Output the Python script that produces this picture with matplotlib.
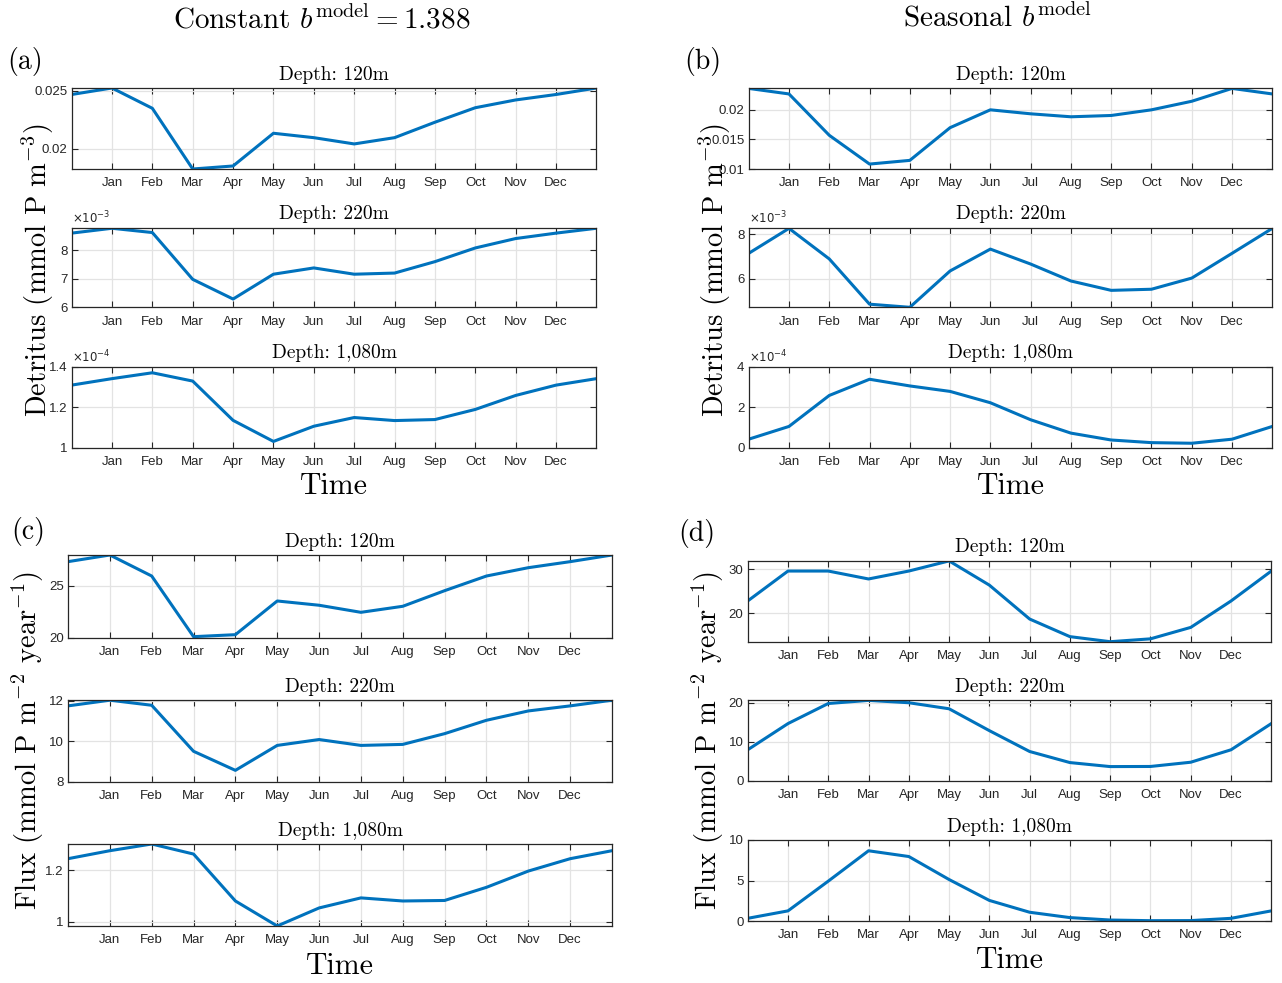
import matplotlib
matplotlib.use("Agg")
import matplotlib.pyplot as plt
from matplotlib.ticker import FuncFormatter

# ---- data (monthly values Jan..Dec) ----
months = ["Jan", "Feb", "Mar", "Apr", "May", "Jun",
          "Jul", "Aug", "Sep", "Oct", "Nov", "Dec"]
depths = ["120m", "220m", "1,080m"]

det_const_120 = [0.02523, 0.02348, 0.01825, 0.01851, 0.02133, 0.02095,
                 0.02041, 0.02095, 0.02228, 0.02353, 0.02420, 0.02467]
det_const_220 = [8.77e-3, 8.62e-3, 6.98e-3, 6.29e-3, 7.16e-3, 7.38e-3,
                 7.16e-3, 7.20e-3, 7.60e-3, 8.08e-3, 8.41e-3, 8.60e-3]
det_const_1080 = [1.341e-4, 1.370e-4, 1.329e-4, 1.135e-4, 1.031e-4, 1.106e-4,
                  1.149e-4, 1.134e-4, 1.139e-4, 1.189e-4, 1.258e-4, 1.309e-4]

det_seas_120 = [0.02262, 0.01567, 0.01083, 0.01145, 0.01695, 0.01995,
                0.01928, 0.01878, 0.01900, 0.01995, 0.02139, 0.02355]
det_seas_220 = [8.27e-3, 6.90e-3, 4.87e-3, 4.73e-3, 6.36e-3, 7.34e-3,
                6.67e-3, 5.91e-3, 5.49e-3, 5.54e-3, 6.04e-3, 7.15e-3]
det_seas_1080 = [1.05e-4, 2.58e-4, 3.38e-4, 3.05e-4, 2.78e-4, 2.22e-4,
                 1.38e-4, 0.72e-4, 0.38e-4, 0.25e-4, 0.22e-4, 0.42e-4]

flux_const_120 = [27.95, 25.93, 20.10, 20.29, 23.53, 23.12,
                  22.44, 23.02, 24.52, 25.93, 26.73, 27.31]
flux_const_220 = [12.02, 11.77, 9.50, 8.56, 9.79, 10.08,
                  9.79, 9.84, 10.37, 11.03, 11.49, 11.74]
flux_const_1080 = [1.275, 1.301, 1.262, 1.080, 0.983, 1.053,
                   1.092, 1.080, 1.082, 1.133, 1.196, 1.244]

flux_seas_120 = [29.6, 29.6, 27.8, 29.6, 31.9, 26.4,
                 18.7, 14.7, 13.55, 14.2, 16.8, 22.8]
flux_seas_220 = [14.65, 19.8, 20.6, 20.0, 18.45, 12.84,
                 7.49, 4.65, 3.62, 3.65, 4.74, 7.93]
flux_seas_1080 = [1.25, 4.92, 8.67, 7.96, 5.12, 2.54,
                  1.08, 0.42, 0.12, 0.04, 0.05, 0.33]

# ---- styling / layout ----
W, H = 1282, 983
BLUE = "#0072BD"
DARK = "#262626"
plt.rcParams["mathtext.fontset"] = "cm"
plt.rcParams["axes.formatter.use_mathtext"] = True
SERIF = "cmr10"
SANS = "Liberation Sans"

# panel: (series, exponents, yticks, ylims (in shown units), x range px, rows px)
panels = {
    "a": ([det_const_120, det_const_220, det_const_1080], [0, -3, -4],
          [[0.02, 0.025], [6, 7, 8], [1, 1.2, 1.4]],
          [(0.01825, 0.02523), (6, 8.79), (1, 1.4)],
          (71.6, 596.4), [(88, 169), (227.7, 307.3), (366.7, 447.7)]),
    "b": ([det_seas_120, det_seas_220, det_seas_1080], [0, -3, -4],
          [[0.01, 0.015, 0.02], [6, 8], [0, 2, 4]],
          [(0.01, 0.02362), (4.73, 8.30), (0, 4)],
          (748.7, 1272.3), [(88, 169), (227.7, 307.3), (366.7, 447.7)]),
    "c": ([flux_const_120, flux_const_220, flux_const_1080], [0, 0, 0],
          [[20, 25], [8, 10, 12], [1, 1.2]],
          [(20, 27.95), (8, 12.03), (0.983, 1.301)],
          (68, 612), [(555, 637.7), (700, 781.7), (844, 926)]),
    "d": ([flux_seas_120, flux_seas_220, flux_seas_1080], [0, 0, 0],
          [[20, 30], [0, 10, 20], [0, 5, 10]],
          [(13.55, 31.95), (0, 20.7), (0, 10)],
          (747.7, 1271.3), [(560.7, 641.7), (700, 780.7), (840, 921)]),
}

fig = plt.figure(figsize=(W / 100, H / 100), dpi=100)


def fmt(v, pos):
    return "%g" % round(v, 6)


for key, (series, exps, yticks, ylims, (x0, x1), rows) in panels.items():
    for i, (vals, e, yt, yl, (y0, y1)) in enumerate(zip(series, exps, yticks, ylims, rows)):
        ax = fig.add_axes([x0 / W, 1 - y1 / H, (x1 - x0) / W, (y1 - y0) / H])
        scale = 10.0 ** e
        # periodic: Dec before Jan, Jan after Dec
        y = [vals[-1] / scale] + [v / scale for v in vals] + [vals[0] / scale]
        ax.plot(range(len(y)), y, color=BLUE, lw=2.2)
        ax.set_xlim(0, 13)
        ax.set_ylim(yl)
        ax.set_xticks(range(1, 13))
        ax.set_xticklabels(months)
        ax.set_yticks(yt)
        ax.yaxis.set_major_formatter(FuncFormatter(fmt))
        ax.grid(True, color="#e3e3e3", lw=0.9)
        ax.set_axisbelow(True)
        ax.tick_params(direction="in", length=4, width=0.8, color=DARK,
                       top=True, right=True, labelsize=9.5, labelcolor=DARK)
        ax.tick_params(axis="x", pad=6)
        ax.tick_params(axis="y", pad=3)
        for lab in ax.get_xticklabels() + ax.get_yticklabels():
            lab.set_fontfamily(SANS)
        for s in ax.spines.values():
            s.set_color(DARK)
            s.set_linewidth(0.9)
        ax.set_title("Depth: " + depths[i], fontfamily=SERIF, fontsize=14, pad=6)
        if e != 0:
            ax.text(0.0, 1.02, r"$\times10^{%d}$" % e, transform=ax.transAxes,
                    fontsize=8.5, color=DARK, ha="left", va="bottom",
                    math_fontfamily="dejavusans")


# axis labels, panel letters, column titles
def ftext(px, py, s, **kw):
    fig.text(px / W, 1 - py / H, s, fontfamily=SERIF, ha="center",
             va="center", **kw)


ftext(322, 20, r"Constant $b^{\mathrm{model}} = 1.388$", fontsize=21)
ftext(998, 18, r"Seasonal $b^{\mathrm{model}}$", fontsize=21)

ftext(25, 62, "(a)", fontsize=20)
ftext(703, 62, "(b)", fontsize=20)
ftext(28, 531, "(c)", fontsize=20)
ftext(697, 533, "(d)", fontsize=20)

ftext(334, 486, "Time", fontsize=21.5)
ftext(1011, 486, "Time", fontsize=21.5)
ftext(340, 966, "Time", fontsize=21.5)
ftext(1010, 960, "Time", fontsize=21.5)

det_label = r"Detritus (mmol P m$^{-3}$)"
flux_label = r"Flux (mmol P m$^{-2}$ year$^{-1}$)"
ftext(38, 270, det_label, fontsize=20.5, rotation=90)
ftext(715, 270, det_label, fontsize=20.5, rotation=90)
ftext(28, 740, flux_label, fontsize=20.5, rotation=90)
ftext(708, 740, flux_label, fontsize=20.5, rotation=90)

fig.savefig("out.png", dpi=100)
